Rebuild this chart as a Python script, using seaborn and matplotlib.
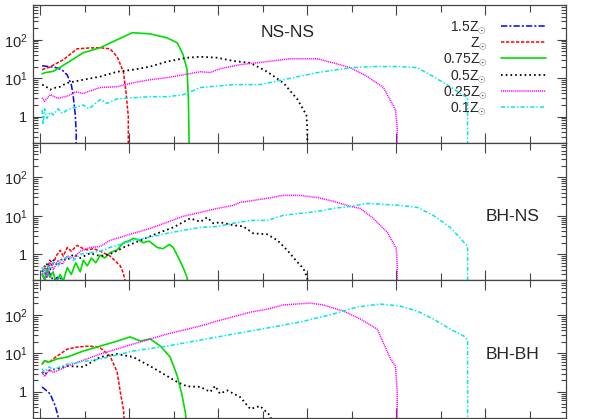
import numpy as np
import pandas as pd
import matplotlib
matplotlib.use("Agg")
import matplotlib.pyplot as plt
from matplotlib.ticker import FixedLocator, LogLocator, NullFormatter, FixedFormatter
import seaborn as sns

# ---------------- data (x in axis-tick units, y = counts) ----------------
labels = [r"1.5Z$_{\odot}$", r"Z$_{\odot}$", r"0.75Z$_{\odot}$",
          r"0.5Z$_{\odot}$", r"0.25Z$_{\odot}$", r"0.1Z$_{\odot}$"]
panel_names = ["NS-NS", "BH-NS", "BH-BH"]

# NS-NS
nsns_x_15 = [0.045, 0.34, 0.49, 0.61, 0.70, 0.74, 0.79, 0.81, 0.81]
nsns_y_15 = [21, 19, 16.6, 12, 6.8, 3.7, 1.1, 0.4, 0.1]
nsns_x_10 = [0.045, 0.12, 0.2, 0.3, 0.52, 0.83, 1.1, 1.35, 1.57, 1.73, 1.87, 1.93, 1.98, 1.98]
nsns_y_10 = [16.6, 18, 19, 22, 30, 58, 61, 62, 58, 36, 14.7, 4.2, 1.0, 0.1]
nsns_x_075 = [0.045, 0.12, 0.29, 0.61, 0.97, 1.35, 1.73, 2.07, 2.47, 2.85, 3.08, 3.21, 3.30, 3.33, 3.35]
nsns_y_075 = [13, 14, 15, 25, 46, 62, 100, 152, 142, 112, 83, 41, 16.6, 2.8, 0.1]
nsns_x_05 = [0.045, 0.12, 0.225, 0.3, 0.45, 0.6, 0.97, 1.35, 1.73, 2.09, 2.47, 2.85,
             3.30, 3.60, 3.98, 4.34, 4.72, 5.10, 5.46, 5.78, 5.98, 6.0, 6.0]
nsns_y_05 = [6.8, 6.2, 5.0, 5.5, 6.0, 7.5, 9.1, 11, 14.7, 16.6, 20, 27,
             34, 36, 34, 28, 25, 14.7, 7.6, 2.8, 1.1, 0.5, 0.1]
nsns_x_025 = [0.045, 0.1, 0.225, 0.4, 0.61, 0.8, 0.97, 1.15, 1.35, 1.73, 2.09, 2.47, 2.85,
              3.60, 3.82, 4.04, 4.49, 5.10, 5.62, 6.22, 6.58, 6.97, 7.35, 7.71, 7.98, 8.02, 8.02]
nsns_y_025 = [3.1, 2.5, 3.7, 3.0, 3.4, 4.4, 4.0, 4.8, 5.7, 6.0, 7.6, 9.1, 10.3,
              14.7, 14, 17.6, 22.4, 27, 32, 32, 25, 18.7, 11, 5.7, 1.5, 0.5, 0.1]
nsns_x_01 = [0.045, 0.07, 0.1, 0.15, 0.225, 0.3, 0.4, 0.5, 0.61, 0.75, 0.97, 1.1, 1.35, 1.5,
             1.73, 2.09, 2.47, 2.85, 3.21, 3.60, 4.34, 4.94, 5.46, 6.22, 6.97, 7.48, 8.09,
             8.47, 8.83, 9.21, 9.48, 9.60, 9.60]
nsns_y_01 = [1.5, 0.62, 1.6, 0.9, 1.3, 1.1, 1.6, 1.2, 1.5, 1.7, 2.0, 1.6, 2.8, 2.2,
             2.9, 3.1, 3.3, 3.3, 3.7, 5.7, 6.8, 6.8, 9.1, 13.9, 18.7, 20, 20,
             18.7, 11, 6.0, 3.7, 3.1, 0.1]

# BH-NS
bhns_x_15 = [0.045, 0.12, 0.2, 0.3, 0.4, 0.5, 0.55]
bhns_y_15 = [0.3, 0.22, 0.35, 0.2, 0.26, 0.22, 0.1]
bhns_x_10 = [0.045, 0.1, 0.16, 0.22, 0.29, 0.36, 0.45, 0.52, 0.61, 0.7, 0.83, 0.97, 1.06,
             1.2, 1.35, 1.57, 1.73, 1.80, 1.87, 1.91, 1.93]
bhns_y_10 = [0.35, 0.5, 0.4, 0.7, 0.55, 0.9, 1.27, 0.9, 1.5, 1.2, 1.7, 1.4, 1.3,
             1.4, 1.2, 0.9, 0.6, 0.5, 0.32, 0.2, 0.1]
bhns_x_075 = [0.045, 0.1, 0.16, 0.22, 0.29, 0.36, 0.45, 0.52, 0.61, 0.7, 0.8, 0.9, 0.97,
              1.06, 1.15, 1.25, 1.35, 1.45, 1.57, 1.73, 1.87, 2.02, 2.09, 2.2, 2.31, 2.45,
              2.63, 2.76, 2.9, 2.99, 3.10, 3.21, 3.30, 3.35]
bhns_y_075 = [0.3, 0.22, 0.4, 0.25, 0.35, 0.18, 0.3, 0.2, 0.45, 0.3, 0.6, 0.35, 0.7,
              0.5, 0.8, 0.6, 0.95, 0.8, 1.1, 1.3, 2.0, 2.3, 2.6, 2.4, 2.0, 2.2,
              1.5, 1.4, 1.8, 1.5, 0.84, 0.46, 0.25, 0.1]
bhns_x_05 = [0.045, 0.1, 0.16, 0.225, 0.3, 0.4, 0.5, 0.61, 0.75, 0.9, 1.12, 1.35, 1.57,
             1.87, 2.25, 2.63, 2.99, 3.37, 3.60, 3.75, 3.89, 4.04, 4.34, 4.56, 4.79, 5.10,
             5.33, 5.55, 5.78, 5.91, 6.0, 6.0]
bhns_y_05 = [0.38, 0.3, 0.6, 0.4, 0.7, 0.5, 0.8, 0.7, 1.0, 0.8, 1.06, 0.9, 1.0,
             1.5, 2.3, 3.5, 5.0, 8.6, 7.0, 9.1, 6.4, 6.8, 5.7, 5.3, 3.5, 3.3,
             2.3, 1.27, 0.62, 0.43, 0.25, 0.1]
bhns_x_025 = [0.045, 0.1, 0.16, 0.225, 0.3, 0.4, 0.5, 0.61, 0.75, 0.9, 1.12, 1.35, 1.57,
              2.09, 2.47, 2.85, 3.21, 3.60, 3.98, 4.34, 4.49, 5.10, 5.46, 5.84, 6.22,
              6.58, 6.97, 7.19, 7.48, 7.80, 8.00, 8.02, 8.02]
bhns_y_025 = [0.3, 0.45, 0.25, 0.6, 0.4, 0.7, 0.55, 0.9, 0.8, 1.2, 1.5, 1.6, 2.3,
              3.5, 4.7, 6.8, 9.7, 12.3, 15.6, 18.7, 22.4, 28.5, 34, 34, 30,
              24, 17.6, 15.6, 8.6, 3.7, 1.4, 0.5, 0.1]
bhns_x_01 = [0.045, 0.1, 0.16, 0.225, 0.3, 0.4, 0.5, 0.61, 0.75, 0.9, 1.12, 1.35, 1.57,
             2.09, 2.47, 2.85, 3.21, 3.60, 3.98, 4.34, 4.72, 5.10, 5.46, 5.84, 6.22, 6.58,
             6.97, 7.35, 8.09, 8.47, 8.83, 9.21, 9.48, 9.60, 9.60]
bhns_y_01 = [0.46, 0.3, 0.55, 0.4, 0.65, 0.5, 0.75, 0.84, 0.7, 1.0, 1.1, 1.2, 1.5,
             2.3, 2.8, 3.5, 4.2, 5.0, 5.3, 6.4, 7.6, 7.6, 10.3, 11.6, 13, 15.6,
             17.6, 21, 18.7, 16.6, 10.3, 5.0, 2.3, 1.6, 0.1]

# BH-BH
bhbh_x_15 = [0.045, 0.225, 0.34, 0.40, 0.45]
bhbh_y_15 = [1.35, 0.89, 0.43, 0.24, 0.1]
bhbh_x_10 = [0.045, 0.1, 0.2, 0.29, 0.45, 0.61, 0.83, 1.12, 1.35, 1.57, 1.73, 1.80, 1.87, 1.91]
bhbh_y_10 = [5.3, 6.5, 5.8, 7.2, 9.7, 13, 14.7, 15.6, 14, 8.6, 3.3, 1.0, 0.36, 0.1]
bhbh_x_075 = [0.045, 0.1, 0.2, 0.38, 0.61, 0.97, 1.35, 1.73, 2.02, 2.25, 2.47, 2.70, 2.92,
              3.08, 3.19, 3.26, 3.30]
bhbh_y_075 = [5.3, 6.5, 6.0, 7.2, 8.1, 11.6, 15.6, 21, 27, 21, 24, 15.6, 8.1,
              2.6, 0.79, 0.3, 0.1]
bhbh_x_05 = [0.045, 0.1, 0.2, 0.38, 0.61, 0.97, 1.35, 1.73, 2.09, 2.47, 2.85, 3.08, 3.30,
             3.60, 3.82, 3.93, 4.04, 4.20, 4.49, 4.72, 4.94, 5.17, 5.25]
bhbh_y_05 = [3.3, 2.8, 3.6, 4.0, 4.7, 4.5, 8.1, 9.7, 8.1, 4.7, 2.6, 1.8, 1.4,
             1.35, 1.0, 1.43, 0.9, 1.1, 0.74, 0.36, 0.43, 0.24, 0.1]
bhbh_x_025 = [0.045, 0.1, 0.2, 0.3, 0.61, 1.35, 2.09, 2.85, 3.60, 3.98, 4.72, 5.10, 5.46,
              6.07, 6.36, 6.81, 7.19, 7.57, 7.87, 7.98, 8.02, 8.02]
bhbh_y_025 = [3.3, 2.5, 3.8, 3.2, 4.7, 9.7, 17.6, 32, 52, 70, 119, 142, 183,
              205, 183, 127, 79, 43, 7.2, 4.7, 1.0, 0.1]
bhbh_x_01 = [0.045, 0.1, 0.2, 0.3, 0.61, 1.35, 2.09, 2.85, 3.60, 4.34, 5.10, 5.84, 6.58,
             7.12, 7.64, 8.09, 8.47, 8.83, 9.21, 9.55, 9.60, 9.60]
bhbh_y_01 = [4.0, 3.3, 4.5, 3.8, 5.3, 7.2, 11.6, 15.6, 22.4, 32, 46, 66, 106,
             162, 193, 171, 127, 79, 43, 27, 21, 0.1]

panels = [
    [(nsns_x_15, nsns_y_15), (nsns_x_10, nsns_y_10), (nsns_x_075, nsns_y_075),
     (nsns_x_05, nsns_y_05), (nsns_x_025, nsns_y_025), (nsns_x_01, nsns_y_01)],
    [(bhns_x_15, bhns_y_15), (bhns_x_10, bhns_y_10), (bhns_x_075, bhns_y_075),
     (bhns_x_05, bhns_y_05), (bhns_x_025, bhns_y_025), (bhns_x_01, bhns_y_01)],
    [(bhbh_x_15, bhbh_y_15), (bhbh_x_10, bhbh_y_10), (bhbh_x_075, bhbh_y_075),
     (bhbh_x_05, bhbh_y_05), (bhbh_x_025, bhbh_y_025), (bhbh_x_01, bhbh_y_01)],
]

# ---------------- style ----------------
colors = ["#0000ff", "#ff0000", "#00dd00", "#000000", "#ff00ff", "#00e8e8"]
styles = [(0, (4.5, 1.5, 1.5, 1.5)), (0, (2.4, 1.2)), "-",
          (0, (1.2, 2.2)), (0, (0.8, 0.6)), (0, (3.0, 1.5, 1.0, 1.5))]
widths = [1.1, 1.1, 1.2, 1.3, 1.1, 1.1]

sns.set_style("ticks")
plt.rcParams["font.family"] = ["Liberation Sans", "DejaVu Sans"]
plt.rcParams["mathtext.fontset"] = "custom"
plt.rcParams["mathtext.rm"] = "Liberation Sans"
plt.rcParams["mathtext.it"] = "Liberation Sans:italic"
plt.rcParams["lines.scale_dashes"] = False

fig = plt.figure(figsize=(5.98, 4.19), dpi=100)
gs = fig.add_gridspec(3, 1, left=33 / 598, right=566 / 598, top=1 - 5 / 419,
                      bottom=1 - 418 / 419, hspace=0)
axes = [fig.add_subplot(gs[i]) for i in range(3)]

spine_col = "#444444"
for pi, ax in enumerate(axes):
    for si, (xs, ys) in enumerate(panels[pi]):
        df = pd.DataFrame({"x": xs, "y": ys})
        sns.lineplot(data=df, x="x", y="y", ax=ax, sort=False, estimator=None,
                     color=colors[si], linestyle=styles[si], linewidth=widths[si],
                     label=labels[si] if pi == 0 else None, legend=False)
    ax.set_yscale("log")
    ax.set_ylim(0.21, 800)
    ax.set_xlim(-0.16, 11.81)
    ax.set_xlabel("")
    ax.set_ylabel("")
    ax.xaxis.set_major_locator(FixedLocator([0, 2, 4, 6, 8, 10]))
    ax.xaxis.set_minor_locator(FixedLocator([1, 3, 5, 7, 9, 11]))
    ax.yaxis.set_major_locator(FixedLocator([1, 10, 100]))
    ax.yaxis.set_major_formatter(FixedFormatter(["1", r"$10^1$", r"$10^2$"]))
    ax.yaxis.set_minor_locator(LogLocator(base=10, subs=np.arange(2, 10), numticks=20))
    ax.yaxis.set_minor_formatter(NullFormatter())
    ax.tick_params(axis="both", which="both", direction="in", top=True, right=True,
                   color=spine_col, width=0.8, labelbottom=False)
    ax.tick_params(axis="x", which="major", length=7.0)
    ax.tick_params(axis="x", which="minor", length=5.0)
    ax.tick_params(axis="y", which="major", length=6.5, labelsize=10.5, pad=4)
    ax.tick_params(axis="y", which="minor", length=3.5)
    for sp in ax.spines.values():
        sp.set_color(spine_col)
        sp.set_linewidth(0.9)

axes[0].text(0.478, 0.797, panel_names[0], transform=axes[0].transAxes,
             ha="center", va="center", fontsize=12.5)
axes[1].text(0.899, 0.467, panel_names[1], transform=axes[1].transAxes,
             ha="center", va="center", fontsize=12.5)
axes[2].text(0.899, 0.464, panel_names[2], transform=axes[2].transAxes,
             ha="center", va="center", fontsize=12.5)

leg = axes[0].legend(loc="upper right", bbox_to_anchor=(0.975, 0.95), frameon=False,
                     markerfirst=False, fontsize=10, handlelength=3.2,
                     handletextpad=1.0, labelspacing=-0.05, borderpad=0)

fig.savefig("out.png", dpi=100)
